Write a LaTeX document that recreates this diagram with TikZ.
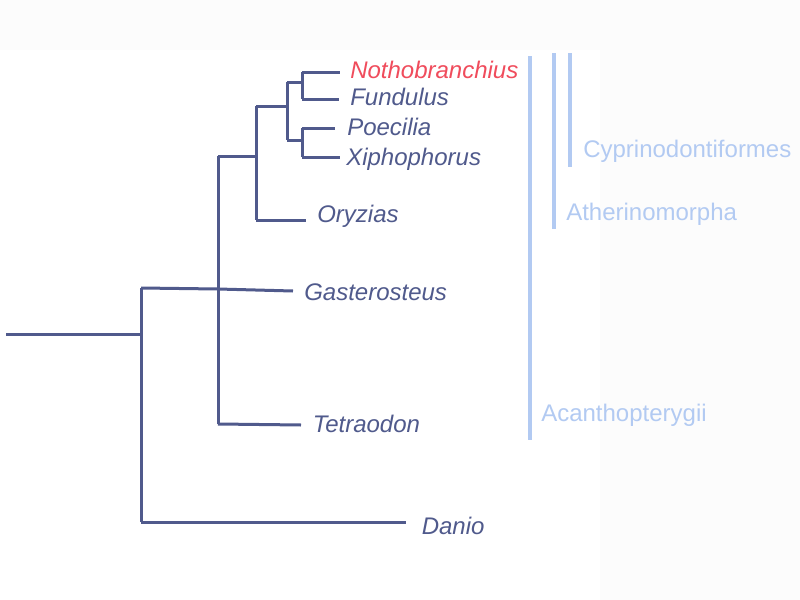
\documentclass[tikz,border=0pt]{standalone}
\usepackage{fontspec}
\setmainfont{Liberation Sans}
\definecolor{treecol}{HTML}{505A8C}
\definecolor{hicol}{HTML}{F04C5C}
\definecolor{cladecol}{HTML}{B2CAF2}
\definecolor{bggray}{HTML}{FCFCFC}
\tikzset{
  branch/.style={draw=treecol, line width=2.25pt, line join=miter, line cap=butt},
  taxon/.style={anchor=base west, inner sep=0pt, font=\fontsize{18}{20}\selectfont\itshape, text=treecol},
  hitaxon/.style={taxon, text=hicol},
  cladebar/.style={draw=cladecol, line width=2.4pt},
  cladelabel/.style={anchor=base west, inner sep=0pt, font=\fontsize{18}{20}\selectfont, text=cladecol}
}
\begin{document}
\begin{tikzpicture}[x=0.75pt, y=-0.75pt]
\useasboundingbox (0,0) rectangle (800,600);
\fill[bggray] (0,0) rectangle (800,600);
\fill[white] (0,50) rectangle (600,600);

% internal coordinates
\coordinate (rootstart) at (6,334);
\coordinate (r) at (141,334);
\coordinate (rTop) at (141,288);
\coordinate (rBot) at (141,522);
\coordinate (aTop) at (218,156);
\coordinate (aMid) at (218,289);
\coordinate (aBot) at (218,424);
\coordinate (bMid) at (256,156);
\coordinate (bTop) at (256,106);
\coordinate (bBot) at (256,220);
\coordinate (cMid) at (287,106);
\coordinate (cTop) at (287,82);
\coordinate (cBot) at (287,140);
\coordinate (dMid) at (302,82);
\coordinate (dTop) at (302,72);
\coordinate (dBot) at (302,99);
\coordinate (eMid) at (302,140);
\coordinate (eTop) at (302,128);
\coordinate (eBot) at (302,157);
% leaf tips
\coordinate (tNoth) at (340,72);
\coordinate (tFund) at (339,99);
\coordinate (tPoec) at (335,128);
\coordinate (tXiph) at (340,157);
\coordinate (tOryz) at (306,220);
\coordinate (tGast) at (293,291);
\coordinate (tTetr) at (301,425);
\coordinate (tDani) at (406,522);

% branches
\draw[branch] (rootstart) -- (r);
\draw[branch] (rTop) -- (rBot);
\draw[branch] (rBot) -- (tDani);
\draw[branch] (rTop) -- (aMid) -- (tGast);
\draw[branch] (aTop) -- (aBot);
\draw[branch] (aBot) -- (tTetr);
\draw[branch] (aTop) -- (bMid);
\draw[branch] (bTop) -- (bBot);
\draw[branch] (bBot) -- (tOryz);
\draw[branch] (bTop) -- (cMid);
\draw[branch] (cTop) -- (cBot);
\draw[branch] (cTop) -- (dMid);
\draw[branch] (dTop) -- (dBot);
\draw[branch] (dTop) -- (tNoth);
\draw[branch] (dBot) -- (tFund);
\draw[branch] (cBot) -- (eMid);
\draw[branch] (eTop) -- (eBot);
\draw[branch] (eTop) -- (tPoec);
\draw[branch] (eBot) -- (tXiph);

% taxa
\node[hitaxon] (noth) at (350,78) {Nothobranchius};
\node[taxon] (fund) at (350,105) {Fundulus};
\node[taxon] (poec) at (347,135) {Poecilia};
\node[taxon] (xiph) at (346,165) {Xiphophorus};
\node[taxon] (oryz) at (317,222.5) {Oryzias};
\node[taxon] (gast) at (304,300) {Gasterosteus};
\node[taxon] (tetr) at (312.5,432.5) {Tetraodon};
\node[taxon] (dani) at (421.5,534) {Danio};

% clade bars
\coordinate (acTop) at (530,56);
\coordinate (acBot) at (530,440);
\coordinate (atTop) at (554,53);
\coordinate (atBot) at (554,229);
\coordinate (cyTop) at (570,53);
\coordinate (cyBot) at (570,167);
\draw[cladebar] (acTop) -- (acBot);
\draw[cladebar] (atTop) -- (atBot);
\draw[cladebar] (cyTop) -- (cyBot);
\node[cladelabel] (cypr) at (583,157.5) {Cyprinodontiformes};
\node[cladelabel] (athe) at (566,220) {Atherinomorpha};
\node[cladelabel] (acan) at (541,421) {Acanthopterygii};
\end{tikzpicture}
\end{document}
